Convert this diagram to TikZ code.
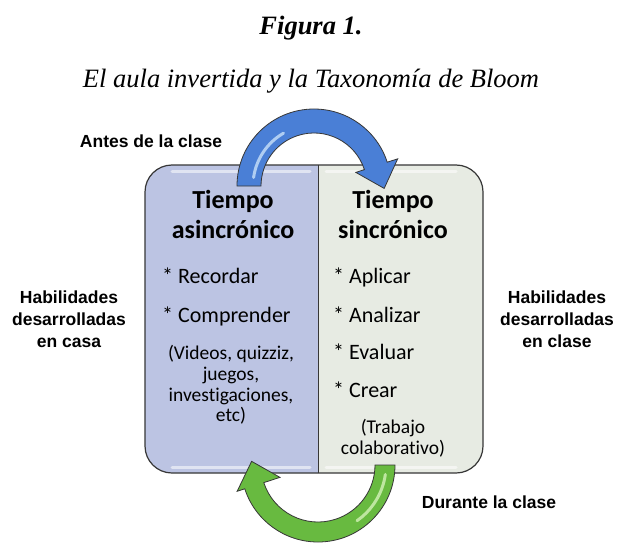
\documentclass[tikz,border=0pt]{standalone}
\usepackage{fontspec}
\usetikzlibrary{calc}
\setmainfont{Liberation Serif}
\newfontfamily\calfont[Ligatures=NoCommon]{Carlito}
\newfontfamily\arfont{Liberation Sans}
\definecolor{panelL}{RGB}{188,196,227}
\definecolor{panelR}{RGB}{231,235,227}
\definecolor{rim}{RGB}{55,55,55}
\definecolor{arrBlue}{RGB}{74,127,214}
\definecolor{arrBlueHi}{RGB}{175,205,242}
\definecolor{arrGreen}{RGB}{104,186,64}
\definecolor{arrGreenHi}{RGB}{190,230,160}

\begin{document}
\begin{tikzpicture}
  [x=1pt,y=1pt,every node/.style={inner sep=0pt}]
 \tikzset{head/.style={font=\calfont\bfseries\fontsize{26}{30}\selectfont,align=center},
   item/.style={font=\calfont\fontsize{22}{26}\selectfont,anchor=base west},
   note/.style={font=\calfont\fontsize{19.5}{20.7}\selectfont,align=center},
   side/.style={font=\arfont\bfseries\fontsize{17.5}{22}\selectfont,align=center},
   arrowline/.style={draw=rim,line width=0.8pt},
   shine/.style={white,opacity=0.55,line width=3pt,line cap=round}}
 \useasboundingbox (0,0) rectangle (623,542);
 \fill[white] (0,0) rectangle (623,542);

 % caption
 \node (fig) at (311,507) [anchor=base,font=\bfseries\itshape\fontsize{26.5}{30}\selectfont] {Figura 1.};
 \node (sub) at (311,454) [anchor=base,font=\itshape\fontsize{26.5}{30}\selectfont] {El aula invertida y la Taxonomía de Bloom};

 % the two panels
 \begin{scope}
  \clip (145,69) rectangle (318,377);
  \fill[panelL,rounded corners=27pt] (145,69) rectangle (483,377);
 \end{scope}
 \begin{scope}
  \clip (318,69) rectangle (483,377);
  \fill[panelR,rounded corners=27pt] (145,69) rectangle (483,377);
 \end{scope}
 \draw[shine] (172,371) -- (310,371);
 \draw[shine] (172,75) -- (310,75);
 \draw[shine] (326,371) -- (456,371);
 \draw[shine] (326,75) -- (456,75);
 \draw[rim,line width=1.2pt,rounded corners=27pt] (145,69) rectangle (483,377);
 \draw[rim,line width=1pt] (318,69) -- (318,377);

 % arrow before class
 \coordinate (bc) at (314,356);
 \begin{scope}[shift={(bc)}]
  \filldraw[fill=arrBlue,arrowline] (180:77) arc[start angle=180,end angle=18,radius=77pt]
    -- (18:88) -- ($(18:66)+(-72:24)$) -- (18:44) -- (18:53)
    arc[start angle=18,end angle=180,radius=53pt] -- cycle;
  \draw[arrBlueHi,line width=3pt,line cap=round] (172:61) arc[start angle=172,end angle=120,radius=61pt];
 \end{scope}

 % arrow during class
 \coordinate (gc) at (318,77);
 \begin{scope}[shift={(gc)}]
  \filldraw[fill=arrGreen,arrowline] (0:77) arc[start angle=0,end angle=-162,radius=77pt]
    -- (-162:85) -- ($(-162:62)+(108:24)$) -- (-162:40) -- (-162:57)
    arc[start angle=-162,end angle=0,radius=57pt] -- cycle;
  \draw[arrGreenHi,line width=3pt,line cap=round] (-8:68) arc[start angle=-8,end angle=-55,radius=68pt];
 \end{scope}

 % outside labels
 \node (antes) at (151,395) [side,anchor=base] {Antes de la clase};
 \node (durante) at (489,34) [side,anchor=base] {Durante la clase};
 \node (casa) at (69,223) [side] {Habilidades\\desarrolladas\\en casa};
 \node (clase) at (557,223) [side] {Habilidades\\desarrolladas\\en clase};

 % left panel
 \node (asinc) at (233,328) [head] {Tiempo\\asincrónico};
 \node (recordar) at (162,259) [item] {* Recordar};
 \node (comprender) at (162,220) [item] {* Comprender};
 \node (recursos) at (231,157) [note] {(Videos, quizziz,\\juegos,\\investigaciones,\\etc)};

 % right panel
 \node (sinc) at (393,328) [head] {Tiempo\\sincrónico};
 \node (aplicar) at (333,259) [item] {* Aplicar};
 \node (analizar) at (333,220) [item] {* Analizar};
 \node (evaluar) at (333,183) [item] {* Evaluar};
 \node (crear) at (333,145) [item] {* Crear};
 \node (trabajo) at (393,104) [note] {(Trabajo\\colaborativo)};

\end{tikzpicture}
\end{document}
